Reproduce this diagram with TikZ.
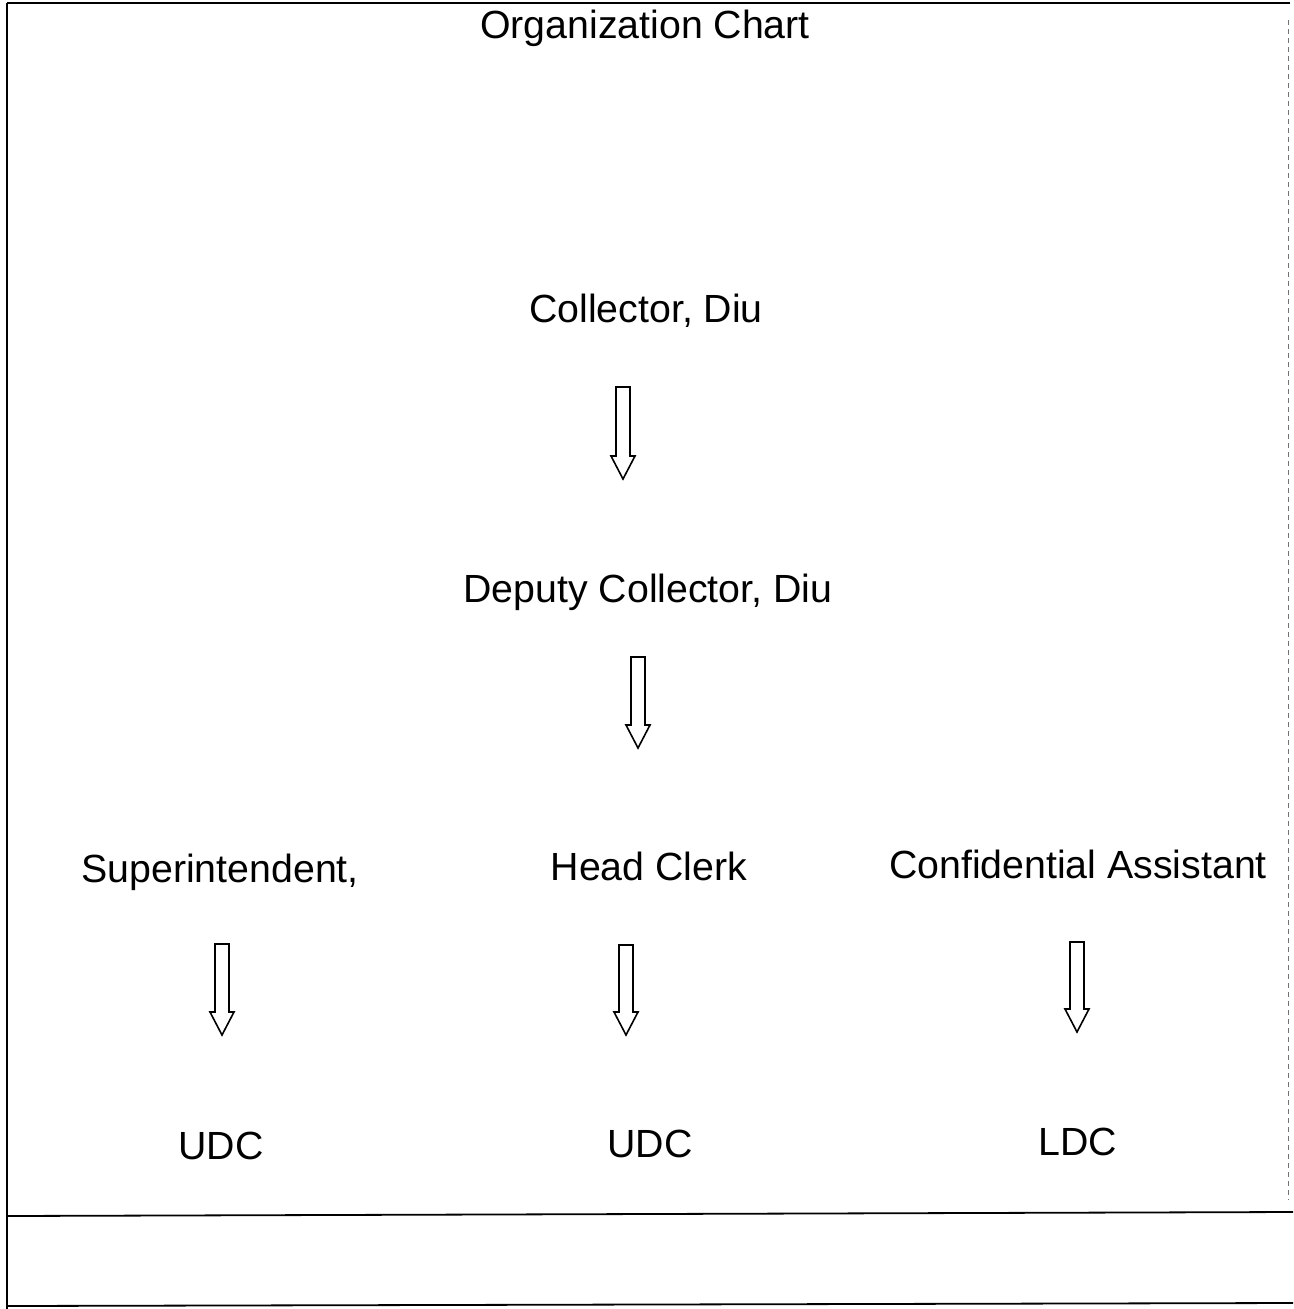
\documentclass[tikz,border=0pt]{standalone}
\usepackage{fontspec}
\setmainfont{Liberation Sans}
\begin{document}
\begin{tikzpicture}[x=1pt,y=-1pt,
  lbl/.style={anchor=base,inner sep=0pt,font=\fontsize{39.3}{47}\selectfont},
  frameline/.style={line width=1.8pt,black},
  blockarrow/.style={line width=1.6pt,black,line join=miter}]
\useasboundingbox (0,0) rectangle (1293,1309);
% frame
\draw[frameline] (7,3) -- (1290,3);
\draw[frameline] (7,3) -- (7,1309);
\draw[line width=0.9pt,black!55,dash pattern=on 5pt off 4pt] (1288,20) -- (1288,1200);
\draw[frameline] (7,1216) -- (1293,1212);
\draw[frameline] (7,1306) -- (1293,1303);
% labels
\node[lbl] (title) at (645,38) {Organization Chart};
\node[lbl] (coll) at (646,322) {Collector, Diu};
\node[lbl] (dep) at (648,602) {Deputy Collector, Diu};
\node[lbl] (sup) at (220,882) {Superintendent,};
\node[lbl] (head) at (649,880) {Head Clerk};
\node[lbl] (conf) at (1078,878) {Confidential Assistant};
\node[lbl] (udc1) at (221,1159) {UDC};
\node[lbl] (udc2) at (650,1157) {UDC};
\node[lbl] (ldc) at (1078,1155) {LDC};
% block arrows: \barrow{cx}{top}{tip}
\newcommand{\barrow}[3]{%
  \draw[blockarrow] (#1-7,#2) -- (#1+7,#2) -- (#1+7,#3-23) -- (#1+12,#3-23)
    -- (#1,#3) -- (#1-12,#3-23) -- (#1-7,#3-23) -- cycle;}
\coordinate (a1) at (623,387);
\barrow{623}{387}{479}
\coordinate (a2) at (638,657);
\barrow{638}{657}{748}
\coordinate (a3) at (222,944);
\barrow{222}{944}{1035}
\coordinate (a4) at (626,945);
\barrow{626}{945}{1035}
\coordinate (a5) at (1077,942);
\barrow{1077}{942}{1032}
\end{tikzpicture}
\end{document}
